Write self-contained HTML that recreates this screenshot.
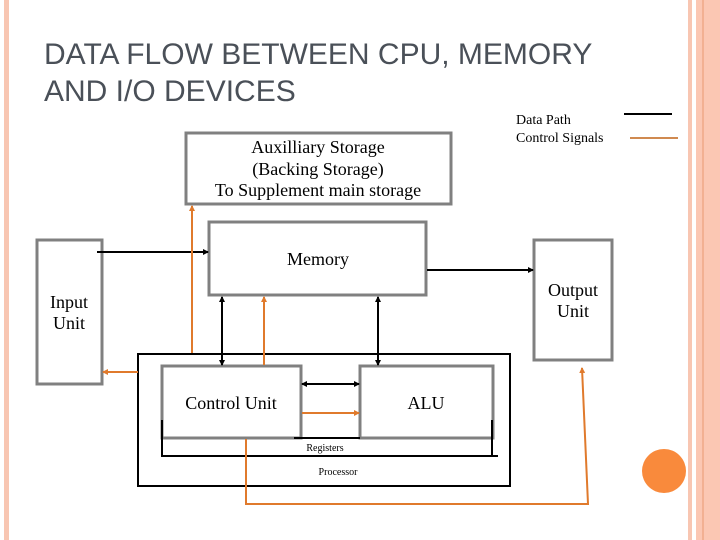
<!DOCTYPE html>
<html><head><style>
body{margin:0;width:720px;height:540px;background:#fff;overflow:hidden}
svg{display:block}
.s{font-family:"Liberation Serif",serif;fill:#000}
</style></head><body>
<svg width="720" height="540" viewBox="0 0 720 540">
<defs>
<marker id="ab" markerWidth="6" markerHeight="6" refX="5" refY="3" orient="auto-start-reverse" markerUnits="userSpaceOnUse"><path d="M0,0 L6,3 L0,6z" fill="#000"/></marker>
<marker id="ao" markerWidth="6" markerHeight="6" refX="5" refY="3" orient="auto-start-reverse" markerUnits="userSpaceOnUse"><path d="M0,0 L6,3 L0,6z" fill="#e07a2c"/></marker>
</defs>
<rect x="4" y="0" width="5" height="540" fill="#f8c6b2"/>
<rect x="688" y="0" width="4" height="540" fill="#f8c6b2"/>
<rect x="696" y="0" width="24" height="540" fill="#fbc7b3"/>
<rect x="702" y="0" width="2" height="540" fill="#f2b092"/>
<text x="44" y="64" font-family="Liberation Sans,sans-serif" font-size="30" fill="#4a5058">DATA FLOW BETWEEN CPU, MEMORY</text>
<text x="44" y="101" font-family="Liberation Sans,sans-serif" font-size="30" fill="#4a5058">AND I/O DEVICES</text>
<text x="516" y="124" class="s" font-size="14">Data Path</text>
<text x="516" y="142" class="s" font-size="14">Control Signals</text>
<line x1="624" y1="114" x2="672" y2="114" stroke="#000" stroke-width="2"/>
<line x1="630" y1="138" x2="678" y2="138" stroke="#d08a50" stroke-width="2"/>
<g fill="#fff" stroke="#808080" stroke-width="3">
<rect x="186" y="133" width="265" height="71"/>
<rect x="209" y="222" width="217" height="73"/>
<rect x="37" y="240" width="65" height="144"/>
<rect x="534" y="240" width="78" height="120"/>
</g>
<rect x="138" y="354" width="372" height="132" fill="none" stroke="#000" stroke-width="2"/>
<g fill="#fff" stroke="#808080" stroke-width="3">
<rect x="162" y="366" width="139" height="72"/>
<rect x="360" y="366" width="133" height="72"/>
</g>
<g stroke="#000" stroke-width="2" fill="none">
<polyline points="162,420 162,456 498,456"/>
<line x1="492" y1="420" x2="492" y2="456"/>
<line x1="294" y1="438" x2="360" y2="438"/>
<line x1="97" y1="252" x2="208" y2="252" marker-end="url(#ab)"/>
<line x1="427" y1="270" x2="533" y2="270" marker-end="url(#ab)"/>
<line x1="222" y1="297" x2="222" y2="365" marker-start="url(#ab)" marker-end="url(#ab)"/>
<line x1="378" y1="297" x2="378" y2="365" marker-start="url(#ab)" marker-end="url(#ab)"/>
<line x1="302" y1="384" x2="359" y2="384" marker-start="url(#ab)" marker-end="url(#ab)"/>
</g>
<g stroke="#e07a2c" stroke-width="2" fill="none">
<line x1="192" y1="353" x2="192" y2="206" marker-end="url(#ao)"/>
<line x1="264" y1="365" x2="264" y2="297" marker-end="url(#ao)"/>
<line x1="138" y1="372" x2="103" y2="372" marker-end="url(#ao)"/>
<line x1="302" y1="413" x2="359" y2="413" marker-end="url(#ao)"/>
<polyline points="246,439 246,504 588,504 582,368" marker-end="url(#ao)"/>
</g>
<circle cx="664" cy="471" r="22" fill="#f98a3c"/>
<g class="s" text-anchor="middle" font-size="18">
<text x="318" y="153">Auxilliary Storage</text>
<text x="318" y="175">(Backing Storage)</text>
<text x="318" y="196">To Supplement main storage</text>
<text x="318" y="265">Memory</text>
<text x="69" y="308">Input</text>
<text x="69" y="329">Unit</text>
<text x="573" y="296">Output</text>
<text x="573" y="317">Unit</text>
<text x="231" y="409">Control Unit</text>
<text x="426" y="409">ALU</text>
<text x="325" y="451" font-size="10">Registers</text>
<text x="338" y="475" font-size="10">Processor</text>
</g>
</svg>
</body></html>
